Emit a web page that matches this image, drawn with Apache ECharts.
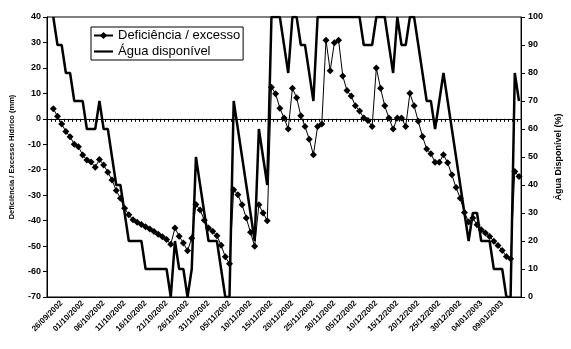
<!DOCTYPE html>
<html>
<head>
<meta charset="utf-8">
<script src="https://cdn.jsdelivr.net/npm/echarts@6/dist/echarts.min.js"></script>
<style>
  html, body { margin: 0; padding: 0; background: #fff; }
  #chart { width: 571px; height: 349px; }
</style>
</head>
<body>
<div id="chart"></div>
<script>
// first day of the daily series (24/09/2002) and number of days
const firstDay = [2002, 8, 24];
const dayCount = 112;

// dates written under the axis
const tickLabels = [
  '26/09/2002', '01/10/2002', '06/10/2002', '11/10/2002', '16/10/2002', '21/10/2002',
  '26/10/2002', '31/10/2002', '05/11/2002', '10/11/2002', '15/11/2002', '20/11/2002',
  '25/11/2002', '30/11/2002', '05/12/2002', '10/12/2002', '15/12/2002', '20/12/2002',
  '25/12/2002', '30/12/2002', '04/01/2003', '09/01/2003'
];

// Deficiência / excesso hídrico (mm), one value per day
const deficit = [
  4.0, 1.0, -2.0, -5.0, -7.0, -10.0, -11.0, -14.2, -16.2, -17.0,
  -19.0, -16.0, -18.1, -21.0, -24.0, -28.2, -31.2, -35.1, -37.7, -39.7,
  -40.6, -41.5, -42.4, -43.3, -44.3, -45.3, -46.3, -47.4, -49.3, -42.9,
  -46.1, -48.8, -51.8, -46.9, -33.7, -35.8, -39.8, -42.9, -44.2, -45.9,
  -49.7, -54.2, -56.9, -27.9, -29.8, -33.8, -39.0, -44.6, -50.1, -33.8,
  -37.0, -40.0, 12.4, 9.8, 4.2, 0.3, -4.0, 12.0, 8.3, 1.2,
  -3.0, -8.0, -14.1, -3.0, -2.0, 30.9, 18.9, 29.9, 30.9, 16.8,
  11.1, 9.0, 5.1, 3.1, 0.3, -0.7, -3.0, 20.0, 12.0, 5.1,
  0.3, -4.0, 0.3, 0.3, -3.0, 10.0, 5.1, -1.0, -6.9, -11.9,
  -13.7, -17.1, -17.1, -14.1, -17.3, -22.0, -27.0, -31.2, -36.8, -40.5,
  -39.0, -41.6, -43.6, -44.9, -46.2, -48.1, -49.8, -51.7, -54.1, -55.0,
  -20.7, -22.7
];

// Água disponível (%), one value per day
const agua = [
  100, 90, 90, 80, 80, 70, 70, 70, 60, 60,
  60, 70, 60, 60, 50, 40, 40, 30, 20, 20,
  20, 20, 10, 10, 10, 10, 10, 10, 0, 20,
  10, 10, 0, 10, 50, 40, 30, 20, 20, 20,
  10, 0, 0, 70, 60, 50, 40, 30, 20, 60,
  50, 40, 100, 100, 100, 90, 80, 100, 100, 90,
  90, 80, 70, 100, 100, 100, 100, 100, 100, 100,
  100, 100, 100, 100, 90, 90, 90, 100, 100, 100,
  90, 80, 100, 90, 90, 100, 100, 90, 80, 70,
  70, 60, 70, 80, 70, 60, 50, 40, 30, 20,
  30, 30, 20, 20, 20, 10, 10, 10, 0, 0,
  80, 70
];

const pad2 = n => (n < 10 ? '0' : '') + n;
const days = [''];  // empty leading slot, the first day sits a bit off the axis
for (let i = 0; i < dayCount; i++) {
  const d = new Date(Date.UTC(firstDay[0], firstDay[1], firstDay[2] + i));
  days.push(pad2(d.getUTCDate()) + '/' + pad2(d.getUTCMonth() + 1) + '/' + d.getUTCFullYear());
}

const font = "'Liberation Sans', Arial, sans-serif";
const black = '#000';

const chart = echarts.init(document.getElementById('chart'));
chart.setOption({
  animation: false,
  textStyle: {fontFamily: font, color: black},
  grid: {left: 46, right: 39, top: 17, bottom: 52, show: true, borderColor: black, borderWidth: 1},
  legend: {
    orient: 'vertical',
    left: 91, top: 27,
    backgroundColor: '#fff',
    borderColor: black, borderWidth: 1,
    padding: [2, 3, 2, 2],
    itemGap: 3,
    itemWidth: 19, itemHeight: 9,
    textStyle: {fontSize: 13, color: black, fontFamily: font},
    data: [
      {name: 'Deficiência / excesso'},
      {name: 'Água disponível', icon: 'path://M0,0 L22,0 L22,2.5 L0,2.5 Z'}
    ]
  },
  xAxis: [
    {
      type: 'category',
      data: days,
      position: 'bottom',
      boundaryGap: true,
      axisLine: {onZero: false, lineStyle: {color: black, width: 1}},
      axisTick: {show: false},
      axisLabel: {
        interval: (idx, val) => tickLabels.indexOf(val) >= 0,
        rotate: 45, margin: 5,
        fontSize: 8, fontWeight: 'bold', color: black, fontFamily: font
      },
      splitLine: {show: false}
    },
    {
      // the line through zero with a tick for every day
      type: 'category',
      data: days,
      position: 'bottom',
      boundaryGap: true,
      axisLine: {onZero: true, lineStyle: {color: black, width: 1}},
      axisTick: {show: true, interval: 0, length: 3, lineStyle: {color: black}},
      axisLabel: {show: false},
      splitLine: {show: false}
    }
  ],
  yAxis: [
    {
      type: 'value',
      min: -70, max: 40, interval: 10,
      position: 'left',
      name: 'Deficiência / Excesso Hídrico (mm)',
      nameLocation: 'middle', nameGap: 31,
      nameTextStyle: {fontSize: 7.5, fontWeight: 'bold', color: black, fontFamily: font},
      axisLine: {show: true, lineStyle: {color: black, width: 1}},
      axisTick: {show: true, length: 4, lineStyle: {color: black}},
      axisLabel: {fontSize: 9, fontWeight: 'bold', color: black, margin: 6, fontFamily: font},
      splitLine: {show: false}
    },
    {
      type: 'value',
      min: 0, max: 100, interval: 10,
      position: 'right',
      name: 'Água Disponível (%)',
      nameLocation: 'middle', nameGap: 31,
      nameTextStyle: {fontSize: 9, fontWeight: 'bold', color: black, fontFamily: font},
      axisLine: {show: true, lineStyle: {color: black, width: 1}},
      axisTick: {show: true, length: 4, lineStyle: {color: black}},
      axisLabel: {fontSize: 9, fontWeight: 'bold', color: black, margin: 7, fontFamily: font},
      splitLine: {show: false}
    }
  ],
  series: [
    {
      name: 'Deficiência / excesso',
      type: 'line',
      xAxisIndex: 0, yAxisIndex: 0,
      data: [null].concat(deficit),
      symbol: 'diamond', symbolSize: 7,
      showSymbol: true, showAllSymbol: true,
      itemStyle: {color: black},
      lineStyle: {color: black, width: 1},
      z: 3
    },
    {
      name: 'Água disponível',
      type: 'line',
      xAxisIndex: 0, yAxisIndex: 1,
      data: [null].concat(agua),
      symbol: 'none', showSymbol: false,
      itemStyle: {color: black},
      lineStyle: {color: black, width: 2.5},
      z: 2
    }
  ]
});
</script>
</body>
</html>
